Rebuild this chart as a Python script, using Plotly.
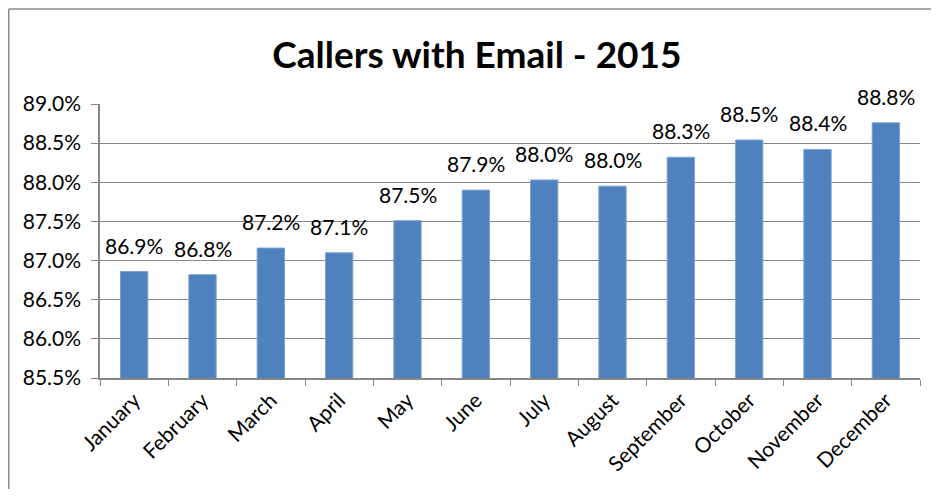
import plotly.graph_objects as go

months = ["January", "February", "March", "April", "May", "June", "July",
          "August", "September", "October", "November", "December"]
values = [86.86, 86.82, 87.16, 87.10, 87.51, 87.90, 88.03, 87.95, 88.32, 88.54, 88.42, 88.76]
y_ticks = [85.5, 86.0, 86.5, 87.0, 87.5, 88.0, 88.5, 89.0]
y_tick_labels = [f"{v:.1f}%" for v in y_ticks]
title_text = "Callers with Email - 2015"

FONT = "Lato, Calibri, sans-serif"

fig = go.Figure()
fig.add_trace(go.Bar(
    x=months, y=values,
    marker=dict(color="#4F81BD", line=dict(color="#7FA3D4", width=1)),
    width=0.4,
    hoverinfo="x+y",
))

annotations = []
for m, v in zip(months, values):
    annotations.append(dict(
        x=m, y=v, xref="x", yref="y", text=f"{v:.1f}%",
        showarrow=False, yanchor="bottom", yshift=12,
        font=dict(family=FONT, size=21, color="#000000"),
    ))

border = dict(color="#8c8c8c", width=1.5)
fig.update_layout(
    width=923, height=481,
    margin=dict(l=92, r=11, t=96, b=111, autoexpand=False),
    paper_bgcolor="white", plot_bgcolor="white",
    title=dict(text=title_text, x=0.508, xanchor="center", y=0.902, yanchor="middle",
               font=dict(family=FONT, size=37, color="#000000", weight="bold")),
    showlegend=False,
    annotations=annotations,
    bargap=0.6,
    shapes=[
        dict(type="line", xref="paper", yref="paper",
             x0=-0.1113, x1=-0.1113, y0=-0.5, y1=1.3467, line=border, layer="below"),
        dict(type="line", xref="paper", yref="paper",
             x0=-0.1113, x1=1.03, y0=1.3467, y1=1.3467, line=border, layer="below"),
    ],
)
fig.update_xaxes(
    type="category", showline=True, linecolor="#868686", linewidth=1.5,
    ticks="outside", tickson="boundaries", ticklen=6, tickcolor="#868686",
    tickangle=-45, tickfont=dict(family=FONT, size=21, color="#000000"),
    showgrid=False, automargin=False,
)
fig.update_yaxes(
    range=[85.5, 89.0], tickvals=y_ticks, ticktext=y_tick_labels,
    showline=True, linecolor="#868686", linewidth=1.5,
    ticks="outside", ticklen=7, tickcolor="#868686", ticklabelstandoff=6,
    showgrid=True, gridcolor="#868686", gridwidth=1.2,
    tickfont=dict(family=FONT, size=21, color="#000000"),
    zeroline=False, automargin=False,
)
fig.write_html("out.html")
